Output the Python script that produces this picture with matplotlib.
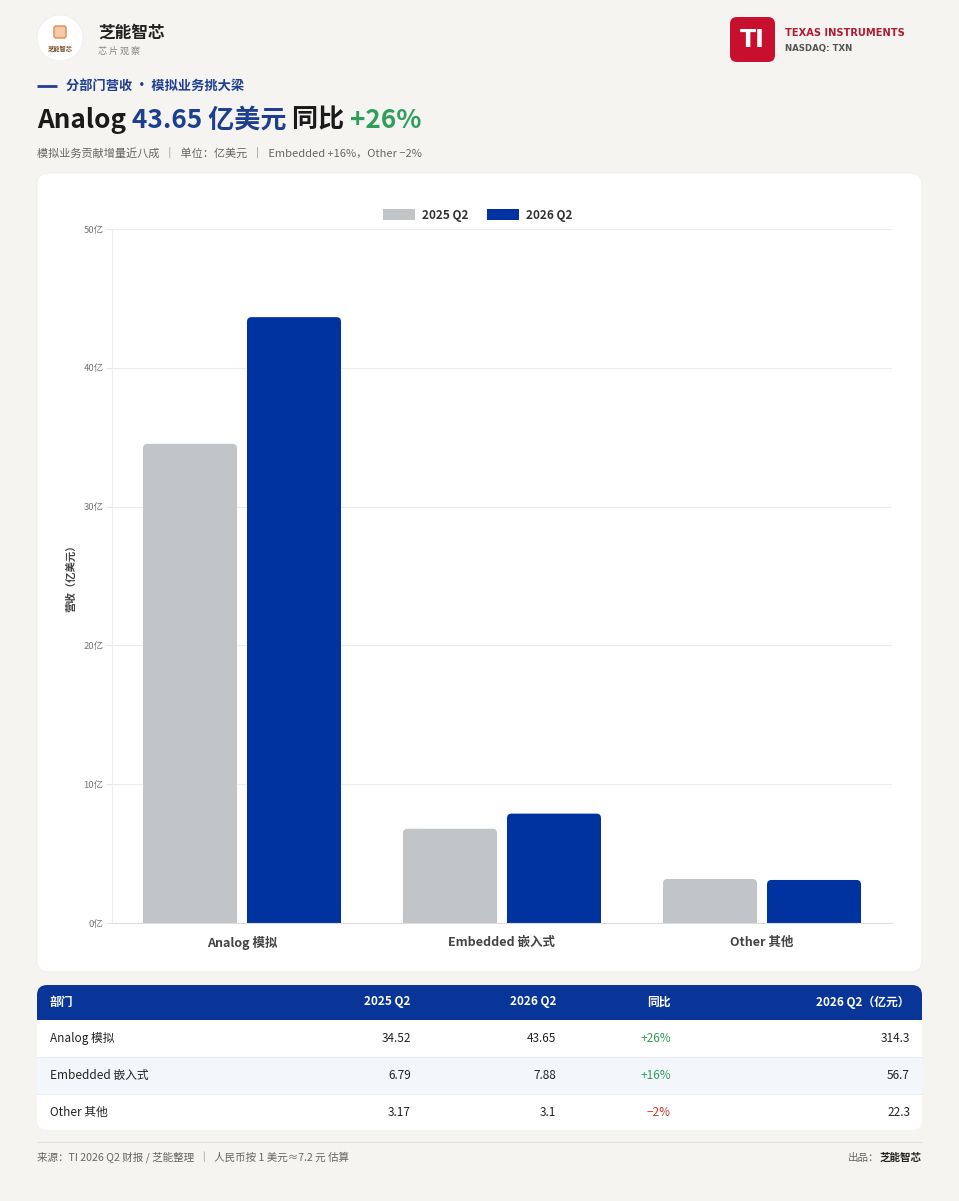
import matplotlib
matplotlib.use("Agg")
import matplotlib.pyplot as plt
from matplotlib.patches import FancyBboxPatch, Rectangle, Circle, Patch

plt.rcParams['font.family'] = ['Noto Sans CJK SC', 'DejaVu Sans']

# ---------------- data ----------------
categories = ["Analog 模拟", "Embedded 嵌入式", "Other 其他"]
series_names = ["2025 Q2", "2026 Q2"]
rev_2025 = [34.52, 6.79, 3.17]
rev_2026 = [43.65, 7.88, 3.1]
yoy_labels = ["+26%", "+16%", "−2%"]
rev_2026_rmb = [314.3, 56.7, 22.3]
y_ticks = [0, 10, 20, 30, 40, 50]
table_headers = ["部门", "2025 Q2", "2026 Q2", "同比", "2026 Q2（亿元）"]

# ---------------- style ----------------
BG = "#f5f4f1"
BLUE = "#0033a0"
GRAY_BAR = "#c1c5c8"
GREEN = "#2e9e5b"
RED = "#c0392b"
TI_RED = "#c8102e"

W, H = 959, 1201
fig = plt.figure(figsize=(W / 100, H / 100), dpi=100)
fig.patch.set_facecolor(BG)

# pixel-coordinate background axes
bg = fig.add_axes([0, 0, 1, 1])
bg.set_xlim(0, W)
bg.set_ylim(H, 0)
bg.axis("off")
bg.set_zorder(0)

# ---- header ----
bg.add_patch(Circle((60, 38), 23, facecolor="white", edgecolor="#eeeeee", lw=0.6))
bg.add_patch(FancyBboxPatch((54, 26), 12, 12, boxstyle="round,pad=0,rounding_size=2",
                            facecolor="#f3c9a6", edgecolor="#d98b55", lw=1))
bg.text(60, 48, "芝能智芯", fontsize=4.5, color="#7a4a2a", ha="center", va="center", fontweight="bold")
bg.text(98, 33, "芝能智芯", fontsize=12, color="#222222", fontweight="bold", va="center")
bg.text(98, 51, "芯 片 观 察", fontsize=6.5, color="#888888", va="center")

bg.add_patch(FancyBboxPatch((730, 17), 45, 45, boxstyle="round,pad=0,rounding_size=7",
                            facecolor=TI_RED, edgecolor="none"))
bg.text(752.5, 40, "TI", fontsize=17, color="white", fontweight="bold", ha="center", va="center",
        family=["DejaVu Sans"])
bg.text(785, 33, "TEXAS INSTRUMENTS", fontsize=7.1, color="#b01c2e", fontweight="bold", va="center",
        family=["DejaVu Sans"])
bg.text(785, 49, "NASDAQ: TXN", fontsize=6.2, color="#555555", fontweight="bold", va="center",
        family=["DejaVu Sans"])

# section header
bg.plot([37, 57], [86, 86], color="#1f3f94", lw=2, solid_capstyle="butt")
bg.text(66, 86, "分部门营收 · 模拟业务挑大梁", fontsize=9.5, color="#1f3f94", fontweight="bold", va="center")

# title
ty = 120
parts = [("Analog ", "#1a1a1a"), ("43.65 亿美元 ", "#1d3f8f"), ("同比 ", "#1a1a1a"), ("+26%", GREEN)]
x = 37
renderer = fig.canvas.get_renderer()
for txt, col in parts:
    t = bg.text(x, ty, txt, fontsize=18.8, color=col, va="center", fontweight="semibold")
    bb = t.get_window_extent(renderer=renderer)
    x += bb.width
bg.text(37, 153, "模拟业务贡献增量近八成  ｜  单位：亿美元  ｜  Embedded +16%，Other −2%",
        fontsize=8, color="#666666", va="center")

# card
bg.add_patch(FancyBboxPatch((37, 173), 885, 799, boxstyle="round,pad=0,rounding_size=12",
                            facecolor="white", edgecolor="#eeeeee", lw=0.6))

# ---- table ----
tx0, tx1 = 37, 922
bg.add_patch(FancyBboxPatch((tx0, 985), tx1 - tx0, 145, boxstyle="round,pad=0,rounding_size=10",
                            facecolor="white", edgecolor="none"))
bg.add_patch(FancyBboxPatch((tx0, 985), tx1 - tx0, 35, boxstyle="round,pad=0,rounding_size=10",
                            facecolor="#0a3598", edgecolor="none"))
bg.add_patch(Rectangle((tx0, 1005), tx1 - tx0, 15, facecolor="#0a3598", edgecolor="none"))
row_tops = [1020, 1057, 1094]
row_h = 37
bg.add_patch(Rectangle((tx0, row_tops[1]), tx1 - tx0, row_h, facecolor="#f3f6fb", edgecolor="none"))
for rt in row_tops[1:]:
    bg.plot([tx0, tx1], [rt, rt], color="#e8ebf0", lw=0.6)

col_x = [50, 411, 556, 671, 910]
col_ha = ["left", "right", "right", "right", "right"]
for cx, ha, hd in zip(col_x, col_ha, table_headers):
    bg.text(cx, 1002, hd, fontsize=8.5, color="white", fontweight="bold", ha=ha, va="center")
for i, cat in enumerate(categories):
    cy = row_tops[i] + row_h / 2
    yoy_col = GREEN if yoy_labels[i].startswith("+") else RED
    vals = [cat, f"{rev_2025[i]:g}", f"{rev_2026[i]:g}", yoy_labels[i], f"{rev_2026_rmb[i]:.1f}"]
    cols = ["#222222", "#222222", "#222222", yoy_col, "#222222"]
    for cx, ha, v, c in zip(col_x, col_ha, vals, cols):
        bg.text(cx, cy, v, fontsize=8.5, color=c, ha=ha, va="center")

# footer
bg.plot([37, 922], [1142, 1142], color="#e2e0dc", lw=0.8)
bg.text(37, 1158, "来源：TI 2026 Q2 财报 / 芝能整理  ｜  人民币按 1 美元≈7.2 元 估算",
        fontsize=7.6, color="#666666", va="center")
bg.text(922, 1158, "芝能智芯", fontsize=7.6, color="#222222", fontweight="bold", ha="right", va="center")
bg.text(879, 1158, "出品：", fontsize=7.6, color="#666666", ha="right", va="center")

# ---- chart axes ----
L, R, T, B = 112, 892, 229, 923
ax = fig.add_axes([L / W, 1 - B / H, (R - L) / W, (B - T) / H])
ax.set_zorder(2)
ax.patch.set_alpha(0)

xs = list(range(len(categories)))
bw = 94 / 260
off = 52 / 260
ax.set_xlim(-0.5, len(categories) - 0.5)
ax.set_ylim(0, 50)

px_x = (R - L) / 3.0       # pixels per x unit
px_y = (B - T) / 50.0      # pixels per y unit
rad_px = 4.5
rx = rad_px / px_x
ry = rad_px / px_y


def rounded_bars(xpos, vals, color, label):
    bars = ax.bar(xpos, [v - ry for v in vals], width=bw, color=color, label=label, zorder=3)
    for rect, v in zip(bars, vals):
        ax.add_patch(FancyBboxPatch((rect.get_x(), 0), bw, v,
                                    boxstyle=f"round,pad=0,rounding_size={rx}",
                                    mutation_aspect=ry / rx,
                                    facecolor=color, edgecolor="none", zorder=3))
    return bars


rounded_bars([v - off for v in xs], rev_2025, GRAY_BAR, series_names[0])
rounded_bars([v + off for v in xs], rev_2026, BLUE, series_names[1])

ax.set_yticks(y_ticks)
ax.set_yticklabels([f"{v}亿" for v in y_ticks], fontsize=6.8, color="#777777")
ax.set_xticks(xs)
ax.set_xticklabels(categories, fontsize=9, color="#444444", fontweight="bold")
ax.tick_params(axis="x", length=0, pad=9)
ax.tick_params(axis="y", length=4, color="#e5e5e5", pad=2)
ax.grid(axis="y", color="#ececec", lw=0.8, zorder=0)
for s in ["top", "right"]:
    ax.spines[s].set_visible(False)
ax.spines["left"].set_color("#eeeeee")
ax.spines["bottom"].set_color("#dddddd")
ax.spines["bottom"].set_zorder(4)
ax.set_ylabel("营收（亿美元）", fontsize=7.5, color="#444444", fontweight="bold", labelpad=5)

ax.legend(handles=[Patch(facecolor=GRAY_BAR, label=series_names[0]),
                   Patch(facecolor=BLUE, label=series_names[1])],
          loc="center", bbox_to_anchor=((478 - L) / (R - L), 1 + 14 / (B - T)), ncol=2, frameon=False,
          handlelength=2.7, handleheight=1.0, columnspacing=1.6, handletextpad=0.6,
          prop={"weight": "bold", "size": 8.5})
for t in ax.get_legend().get_texts():
    t.set_color("#333333")

fig.savefig("out.png", dpi=100, facecolor=BG)
